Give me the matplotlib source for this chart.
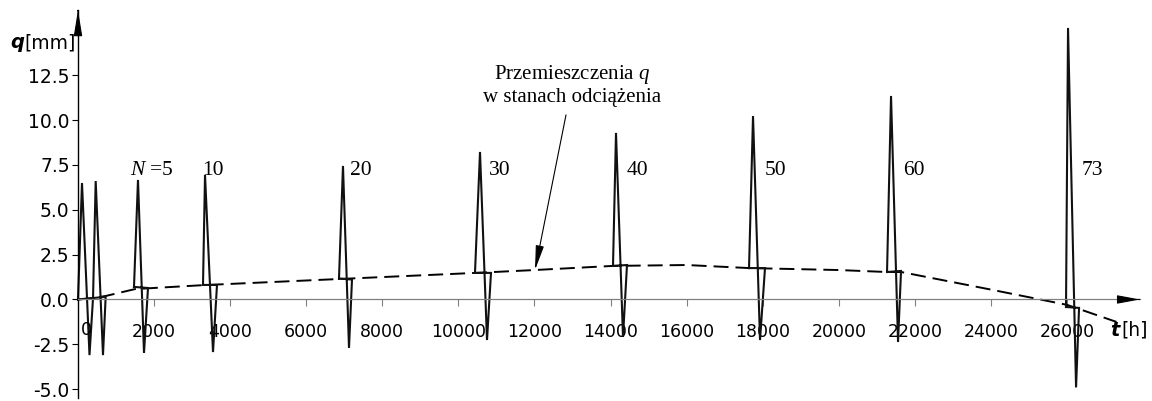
import matplotlib
matplotlib.use("Agg")
import matplotlib.pyplot as plt

plt.rcParams['font.family'] = ['DejaVu Sans']
plt.rcParams['mathtext.fontset'] = 'custom'
plt.rcParams['mathtext.rm'] = 'Liberation Serif'
plt.rcParams['mathtext.it'] = 'Liberation Serif:italic'

# load cycles (N) and the zigzag of each one: start, peak, min, end
cycle_n = [1, 2, 5, 10, 20, 30, 40, 50, 60, 73]
t_start = [0, 395, 1472, 3286, 6861, 10436, 14064, 17640, 21268, 25973]
q_start = [0.0, 0.08, 0.70, 0.81, 1.17, 1.48, 1.87, 1.75, 1.53, -0.42]
t_peak = [105, 465, 1577, 3339, 6966, 10568, 14143, 17745, 21373, 26026]
q_peak = [6.49, 6.60, 6.66, 6.94, 7.44, 8.22, 9.28, 10.22, 11.34, 15.13]
t_min = [302, 657, 1735, 3549, 7124, 10752, 14327, 17929, 21557, 26237]
q_min = [-3.10, -3.10, -2.98, -2.93, -2.70, -2.26, -2.09, -2.26, -2.37, -4.90]
t_end = [395, 727, 1840, 3654, 7203, 10857, 14432, 18060, 21636, 26316]
q_end = [0.08, 0.15, 0.64, 0.81, 1.11, 1.48, 1.92, 1.75, 1.59, -0.47]

# displacement in unloaded states (dashed)
t_unl = [0, 400, 740, 1500, 3300, 6860, 10440, 12000, 14060, 16000,
         17640, 20000, 21270, 21640, 24000, 26000, 27300]
q_unl = [0.0, 0.08, 0.20, 0.58, 0.80, 1.14, 1.48, 1.64, 1.87, 1.92,
         1.75, 1.64, 1.53, 1.53, 0.55, -0.30, -1.25]

cycle_labels = ['$N$ =5', '10', '20', '30', '40', '50', '60', '73']
label_t = [1367, 3260, 7150, 10805, 14432, 18060, 21688, 26393]

x_ticks = list(range(2000, 26001, 2000))
y_ticks = [-5.0, -2.5, 0.0, 2.5, 5.0, 7.5, 10.0, 12.5]

T_MAX = 27918
Q_MIN, Q_MAX = -5.49, 16.13

fig = plt.figure(figsize=(11.52, 4.01), dpi=100)
ax = fig.add_axes([78 / 1152, 3 / 401, 1062 / 1152, 388 / 401])
ax.set_xlim(0, T_MAX)
ax.set_ylim(Q_MIN, Q_MAX)

for s in ['top', 'right']:
    ax.spines[s].set_visible(False)
ax.spines['left'].set_color('black')
ax.spines['left'].set_linewidth(1.0)
ax.spines['bottom'].set_position(('data', 0))
ax.spines['bottom'].set_color('#808080')
ax.spines['bottom'].set_linewidth(0.9)

# axis arrow heads
ax.annotate('', xy=(0, Q_MAX), xytext=(0, Q_MAX - 0.05),
            arrowprops=dict(arrowstyle='-|>,head_length=1.6,head_width=0.26',
                            color='black', lw=0.8, shrinkA=0, shrinkB=0,
                            mutation_scale=10),
            annotation_clip=False)
ax.annotate('', xy=(T_MAX, 0), xytext=(T_MAX - 20, 0),
            arrowprops=dict(arrowstyle='-|>,head_length=1.4,head_width=0.26',
                            color='black', lw=0.8, shrinkA=0, shrinkB=0,
                            mutation_scale=10),
            annotation_clip=False)

ax.set_yticks(y_ticks, [f'{v:.1f}' for v in y_ticks])
ax.set_xticks(x_ticks, [str(v) for v in x_ticks])
ax.tick_params(axis='y', direction='out', length=4, width=0.8, pad=2,
               labelsize=13.5, colors='black')
ax.tick_params(axis='x', direction='out', length=5, width=0.8, pad=12,
               labelsize=12.5, color='#808080', labelcolor='black')
ax.annotate('0', xy=(0, 0), xytext=(8, -31), textcoords='offset pixels',
            ha='center', va='center', fontsize=12.5)

# unloaded displacement (dashed)
ax.plot(t_unl, q_unl, color='black', lw=1.4, linestyle=(0, (7.7, 3.6)),
        clip_on=False)

# load cycle zigzags
for i in range(len(cycle_n)):
    xs = [t_start[i], t_peak[i], t_min[i], t_end[i], t_start[i]]
    ys = [q_start[i], q_peak[i], q_min[i], q_end[i], q_start[i]]
    ax.plot(xs, ys, color='#111111', lw=1.5, solid_joinstyle='miter',
            clip_on=False)

for lab, tx in zip(cycle_labels, label_t):
    ax.text(tx, 6.94, lab, ha='left', va='baseline', fontsize=15.5,
            family='Liberation Serif')

# annotation
ax.annotate('Przemieszczenia $q$\nw stanach odciążenia',
            xy=(12014, 1.64), xytext=(12986, 11.95),
            ha='center', va='center', fontsize=15, family='Liberation Serif',
            linespacing=1.1,
            arrowprops=dict(arrowstyle='-|>,head_length=1.5,head_width=0.25',
                            color='black', lw=0.8, shrinkA=4, shrinkB=0,
                            mutation_scale=10))

# axis titles
fig.text(10 / 1152, 1 - 43 / 401, 'q', fontsize=14, fontweight='bold',
         style='italic', ha='left', va='center')
fig.text(24 / 1152, 1 - 43 / 401, '[mm]', fontsize=13.5, ha='left', va='center')
fig.text(1110 / 1152, 1 - 330 / 401, 't', fontsize=14, fontweight='bold',
         style='italic', ha='left', va='center')
fig.text(1121 / 1152, 1 - 330 / 401, '[h]', fontsize=13.5, ha='left', va='center')

fig.savefig('out.png', dpi=100)
